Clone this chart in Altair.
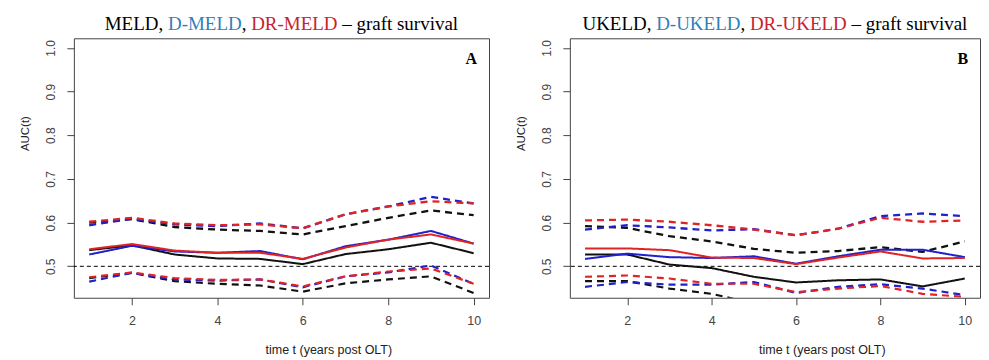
import altair as alt
import pandas as pd

years = [1, 2, 3, 4, 5, 6, 7, 8, 9, 10]

# Panel A: MELD / D-MELD / DR-MELD
A_meld = [0.537, 0.548, 0.527, 0.518, 0.517, 0.505, 0.528, 0.539, 0.554, 0.530]
A_meld_lo = [0.473, 0.485, 0.466, 0.460, 0.456, 0.442, 0.461, 0.470, 0.477, 0.439]
A_meld_hi = [0.600, 0.608, 0.590, 0.584, 0.581, 0.573, 0.592, 0.611, 0.628, 0.617]
A_dmeld = [0.527, 0.547, 0.534, 0.531, 0.535, 0.516, 0.546, 0.561, 0.581, 0.552]
A_dmeld_lo = [0.465, 0.485, 0.470, 0.467, 0.470, 0.452, 0.477, 0.486, 0.502, 0.460]
A_dmeld_hi = [0.594, 0.609, 0.596, 0.592, 0.598, 0.587, 0.619, 0.637, 0.659, 0.644]
A_drmeld = [0.539, 0.551, 0.536, 0.531, 0.531, 0.517, 0.543, 0.561, 0.573, 0.552]
A_drmeld_lo = [0.475, 0.486, 0.473, 0.469, 0.470, 0.454, 0.477, 0.488, 0.495, 0.460]
A_drmeld_hi = [0.602, 0.611, 0.598, 0.594, 0.596, 0.587, 0.619, 0.637, 0.649, 0.644]

# Panel B: UKELD / D-UKELD / DR-UKELD
B_ukeld = [0.527, 0.527, 0.504, 0.496, 0.476, 0.463, 0.468, 0.470, 0.454, 0.472]
B_ukeld_lo = [0.466, 0.466, 0.449, 0.437, 0.415, 0.400, 0.400, 0.405, 0.392, 0.398]
B_ukeld_hi = [0.592, 0.588, 0.569, 0.557, 0.540, 0.531, 0.535, 0.544, 0.533, 0.557]
B_dukeld = [0.517, 0.529, 0.521, 0.519, 0.523, 0.506, 0.523, 0.538, 0.538, 0.521]
B_dukeld_lo = [0.453, 0.464, 0.458, 0.458, 0.464, 0.439, 0.453, 0.459, 0.449, 0.434]
B_dukeld_hi = [0.584, 0.594, 0.589, 0.582, 0.585, 0.571, 0.586, 0.615, 0.621, 0.615]
B_drukeld = [0.541, 0.541, 0.537, 0.520, 0.519, 0.505, 0.520, 0.534, 0.518, 0.519]
B_drukeld_lo = [0.476, 0.479, 0.472, 0.460, 0.460, 0.441, 0.449, 0.455, 0.437, 0.430]
B_drukeld_hi = [0.605, 0.607, 0.602, 0.594, 0.584, 0.571, 0.586, 0.611, 0.602, 0.605]

x_ticks = [2, 4, 6, 8, 10]
y_ticks = [0.5, 0.6, 0.7, 0.8, 0.9, 1.0]

BLACK = "#111111"
BLUE = "#2020cc"
RED = "#e02424"
TITLE_BLUE = "#2f80b8"
TITLE_RED = "#c8232b"

H = 260
X_DOMAIN = [0.64, 10.36]
Y_DOMAIN = [0.428, 1.022]

# Times New Roman advance widths (1/1000 em) for title layout
TW = {"M": 889, "E": 611, "L": 611, "D": 722, "U": 722, "K": 722, "R": 667,
      ",": 250, " ": 250, "-": 333, "\u2013": 500, "g": 500, "r": 333, "a": 444,
      "f": 333, "t": 278, "s": 389, "u": 500, "v": 500, "i": 278, "l": 278}
TITLE_SIZE = 19
SPACE = TW[" "] / 1000.0 * TITLE_SIZE


def text_width(s):
    return sum(TW.get(c, 500) for c in s) / 1000.0 * TITLE_SIZE


def build_df(series):
    rows = []
    for (model, kind), vals in series.items():
        for t, v in zip(years, vals):
            rows.append({"model": model, "kind": kind, "sid": model + "-" + kind, "t": t, "v": v})
    return pd.DataFrame(rows)


one = pd.DataFrame({"k": [0]})


def panel(df, models, pieces, letter, W):
    xs = alt.X("t:Q", scale=alt.Scale(domain=X_DOMAIN, nice=False, zero=False),
               axis=alt.Axis(values=x_ticks, grid=False, domain=False, tickSize=7,
                             tickColor="#444", labelColor="#444", labelFontSize=12.5,
                             labelPadding=10, title="time t (years post OLT)",
                             titleFontSize=12.5, titleFontWeight="normal", titleColor="#222",
                             titleX=W / 2 + 47, titleY=52, titleAlign="center", titleBaseline="middle"))
    ys = alt.Y("v:Q", scale=alt.Scale(domain=Y_DOMAIN, nice=False, zero=False),
               axis=alt.Axis(values=y_ticks, format=".1f", grid=False, domain=False, tickSize=7,
                             tickColor="#444", labelColor="#444", labelFontSize=12,
                             labelAngle=270, labelAlign="center", labelBaseline="bottom",
                             labelPadding=9, title="AUC(t)", titleFontSize=11.5,
                             titleFontWeight="normal", titleColor="#222", titleAngle=270,
                             titleX=-48, titleY=95, titleAlign="center", titleBaseline="middle"))
    layers = [alt.Chart(one).mark_rule(color="black", strokeWidth=1, strokeDash=[4, 3]).encode(y=alt.datum(0.5))]
    for model, color in models:
        sub = df[df["model"] == model]
        layers.append(
            alt.Chart(sub).mark_line(clip=True, color=color).encode(
                x=xs, y=ys, detail="sid:N",
                strokeDash=alt.StrokeDash("kind:N", scale=alt.Scale(domain=["est", "lo", "hi"],
                                                                      range=[[1, 0], [7, 5], [7, 5]]), legend=None),
                strokeWidth=alt.StrokeWidth("kind:N", scale=alt.Scale(domain=["est", "lo", "hi"],
                                                                        range=[2, 2.3, 2.3]), legend=None),
            )
        )
    total = sum(text_width(s) + g * SPACE for s, _, g in pieces)
    x0 = W / 2 - total / 2
    for s, c, g in pieces:
        x0 += g * SPACE
        layers.append(alt.Chart(one).mark_text(align="left", baseline="alphabetic", font="Liberation Serif",
                                               fontSize=TITLE_SIZE, color=c).encode(
            x=alt.value(x0), y=alt.value(-8), text=alt.value(s)))
        x0 += text_width(s)
    layers.append(alt.Chart(one).mark_text(align="right", baseline="alphabetic", font="Liberation Serif",
                                           fontSize=16, fontWeight="bold", color="black").encode(
        x=alt.value(W - 12), y=alt.value(26), text=alt.value(letter)))
    return alt.layer(*layers).properties(width=W, height=H)


dfA = build_df({
    ("MELD", "est"): A_meld, ("MELD", "lo"): A_meld_lo, ("MELD", "hi"): A_meld_hi,
    ("D-MELD", "est"): A_dmeld, ("D-MELD", "lo"): A_dmeld_lo, ("D-MELD", "hi"): A_dmeld_hi,
    ("DR-MELD", "est"): A_drmeld, ("DR-MELD", "lo"): A_drmeld_lo, ("DR-MELD", "hi"): A_drmeld_hi,
})
dfB = build_df({
    ("UKELD", "est"): B_ukeld, ("UKELD", "lo"): B_ukeld_lo, ("UKELD", "hi"): B_ukeld_hi,
    ("D-UKELD", "est"): B_dukeld, ("D-UKELD", "lo"): B_dukeld_lo, ("D-UKELD", "hi"): B_dukeld_hi,
    ("DR-UKELD", "est"): B_drukeld, ("DR-UKELD", "lo"): B_drukeld_lo, ("DR-UKELD", "hi"): B_drukeld_hi,
})

pA = panel(dfA, [("MELD", BLACK), ("D-MELD", BLUE), ("DR-MELD", RED)],
           [("MELD,", "black", 0), ("D-MELD", TITLE_BLUE, 1), (",", "black", 0), ("DR-MELD", TITLE_RED, 1),
            ("\u2013 graft survival", "black", 1)], "A", 416)
pB = panel(dfB, [("UKELD", BLACK), ("D-UKELD", BLUE), ("DR-UKELD", RED)],
           [("UKELD,", "black", 0), ("D-UKELD", TITLE_BLUE, 1), (",", "black", 0), ("DR-UKELD", TITLE_RED, 1),
            ("\u2013 graft survival", "black", 1)], "B", 411)

chart = alt.hconcat(pA, pB, spacing=25).properties(
    padding={"left": 11, "top": 6, "right": 0, "bottom": 0},
    background="white",
).configure(font="Liberation Sans").configure_view(stroke="#444", strokeWidth=1)

chart.save("out.html", embed_options={"renderer": "svg", "actions": False})
